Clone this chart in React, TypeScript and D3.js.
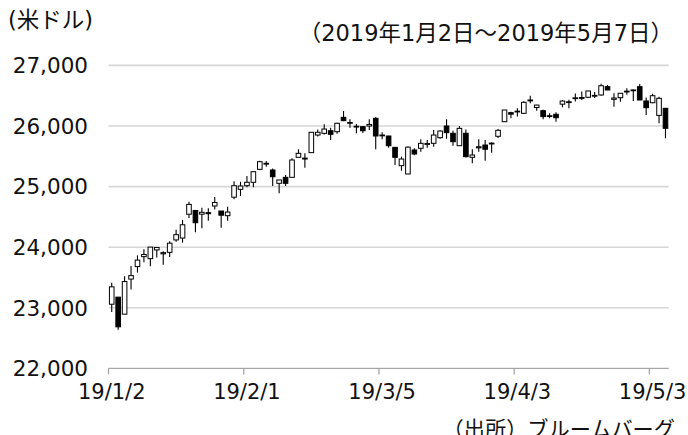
import React from 'react';
import * as d3 from 'd3';

const dates = [
  '19/1/2','19/1/3','19/1/4','19/1/7','19/1/8','19/1/9','19/1/10','19/1/11','19/1/14','19/1/15',
  '19/1/16','19/1/17','19/1/18','19/1/22','19/1/23','19/1/24','19/1/25','19/1/28','19/1/29','19/1/30',
  '19/1/31','19/2/1','19/2/4','19/2/5','19/2/6','19/2/7','19/2/8','19/2/11','19/2/12','19/2/13',
  '19/2/14','19/2/15','19/2/19','19/2/20','19/2/21','19/2/22','19/2/25','19/2/26','19/2/27','19/2/28',
  '19/3/1','19/3/4','19/3/5','19/3/6','19/3/7','19/3/8','19/3/11','19/3/12','19/3/13','19/3/14',
  '19/3/15','19/3/18','19/3/19','19/3/20','19/3/21','19/3/22','19/3/25','19/3/26','19/3/27','19/3/28',
  '19/3/29','19/4/1','19/4/2','19/4/3','19/4/4','19/4/5','19/4/8','19/4/9','19/4/10','19/4/11',
  '19/4/12','19/4/15','19/4/16','19/4/17','19/4/18','19/4/22','19/4/23','19/4/24','19/4/25','19/4/26',
  '19/4/29','19/4/30','19/5/1','19/5/2','19/5/3','19/5/6','19/5/7'
];

const opens = [
  23059,23176,22895,23474,23680,23844,23811,23955,23891,23915,
  24120,24151,24544,24606,24545,24570,24680,24597,24520,24825,
  24955,25015,25071,25285,25372,25274,25054,25153,25153,25483,
  25470,25560,25851,25879,25922,25906,26143,26050,25996,25989,
  26000,26127,25845,25835,25648,25345,25208,25604,25632,25697,
  25714,25807,26000,25879,25675,25880,25483,25640,25686,25705,
  25830,26071,26220,26235,26209,26415,26305,26253,26165,26193,
  26360,26390,26455,26470,26474,26495,26512,26649,26440,26467,
  26565,26590,26649,26413,26384,26175,26292
];

const highs = [
  23413,23176,23519,23688,23865,23966,24003,24005,23935,24098,
  24290,24452,24750,24607,24652,24642,24830,24597,24668,25090,
  25080,25175,25250,25427,25422,25300,25109,25191,25468,25616,
  25549,25896,25941,26030,25972,26053,26248,26110,26033,25999,
  26110,26144,25896,25840,25648,25494,25662,25632,25780,25771,
  25934,25929,26110,25922,26000,25944,25618,25780,25769,25730,
  25950,26265,26236,26292,26407,26500,26350,26270,26209,26226,
  26430,26435,26535,26570,26583,26561,26696,26678,26542,26543,
  26623,26604,26694,26471,26531,26483,26292
];

const lows = [
  22929,22638,22895,23302,23581,23750,23684,23830,23712,23839,
  24090,24076,24480,24246,24312,24437,24622,24323,24437,24790,
  24845,24988,24988,25270,25328,25010,24889,25010,25153,25483,
  25312,25560,25828,25859,25769,25871,26080,25972,25879,25886,
  25934,25616,25780,25642,25356,25263,25208,25519,25576,25641,
  25658,25790,25790,25675,25675,25480,25384,25576,25427,25560,
  25800,26071,26127,26155,26200,26375,26253,26110,26127,26071,
  26309,26293,26405,26430,26463,26464,26500,26594,26318,26400,
  26515,26413,26429,26180,26377,26045,25797
];

const closes = [
  23346,22686,23433,23531,23787,23879,24002,23996,23910,24066,
  24207,24370,24706,24404,24576,24553,24737,24528,24580,25015,
  25010,25071,25246,25411,25384,25163,25109,25054,25439,25549,
  25455,25896,25896,25950,25863,26045,26088,26058,25985,25922,
  26026,25835,25851,25675,25483,25455,25651,25538,25714,25710,
  25851,25917,25890,25741,25961,25494,25521,25658,25616,25717,
  25929,26264,26195,26245,26391,26429,26345,26155,26170,26137,
  26412,26400,26465,26460,26578,26505,26665,26594,26462,26540,
  26575,26595,26429,26302,26500,26457,25962
];

const yTicks = [22000, 23000, 24000, 25000, 26000, 27000];
const xTickIdx = [0, 21, 42, 63, 84];

const unitLabel = '(米ドル)';
const periodLabel = '（2019年1月2日～2019年5月7日）';
const sourceLabel = '（出所）ブルームバーグ';

const FONT = '"DejaVu Sans", "Noto Sans CJK JP", sans-serif';
const INK = '#111';

export default function App() {
  const W = 688, H = 435;
  const x = d3.scaleBand<string>().domain(dates).range([108.5, 668.7]).padding(0);
  const y = d3.scaleLinear().domain([22000, 27000]).range([368.4, 65.4]);
  const bw = 4.6;
  const fmt = d3.format(',');

  return (
    <svg width={W} height={H} style={{ position: 'absolute', left: 0, top: 0, background: '#fff' }}>
      {yTicks.slice(1).map(t => (
        <line key={'g' + t} x1={108.5} x2={668.7} y1={y(t)} y2={y(t)} stroke="#d6d6d6" strokeWidth={1.6} />
      ))}
      <line x1={108.5} x2={668.7} y1={y(22000)} y2={y(22000)} stroke="#a6a6a6" strokeWidth={1.3} />
      {xTickIdx.map(i => (
        <line key={'t' + i} x1={x(dates[i])!} x2={x(dates[i])!} y1={y(22000)} y2={y(22000) + 6} stroke="#a6a6a6" strokeWidth={1.3} />
      ))}
      {yTicks.map(t => (
        <text key={'yl' + t} x={88} y={y(t)} dy="0.36em" textAnchor="end" fontFamily={FONT} fontSize={21.5} fill={INK}>{fmt(t)}</text>
      ))}
      {xTickIdx.map(i => (
        <text key={'xl' + i} x={x(dates[i])! + x.bandwidth() / 2} y={399} textAnchor="middle" fontFamily={FONT} fontSize={21} fill={INK}>{dates[i]}</text>
      ))}
      {dates.map((d, i) => {
        const cx = x(d)! + x.bandwidth() / 2;
        const o = opens[i], c = closes[i];
        const top = y(Math.max(o, c));
        const bot = y(Math.min(o, c));
        const up = c >= o;
        return (
          <g key={d}>
            <line x1={cx} x2={cx} y1={y(highs[i])} y2={y(lows[i])} stroke="#000" strokeWidth={1.1} />
            <rect x={cx - bw / 2} y={top} width={bw} height={Math.max(bot - top, 0.8)} fill={up ? '#fff' : '#000'} stroke="#000" strokeWidth={1} />
          </g>
        );
      })}
      <text x={8} y={28} fontFamily={FONT} fontSize={22.5} fill={INK}>{unitLabel}</text>
      <text x={673} y={41} textAnchor="end" fontFamily={FONT} fontSize={22.5} fill={INK}>{periodLabel}</text>
      <text x={675} y={437} textAnchor="end" fontFamily={FONT} fontSize={21.2} fill={INK}>{sourceLabel}</text>
    </svg>
  );
}
